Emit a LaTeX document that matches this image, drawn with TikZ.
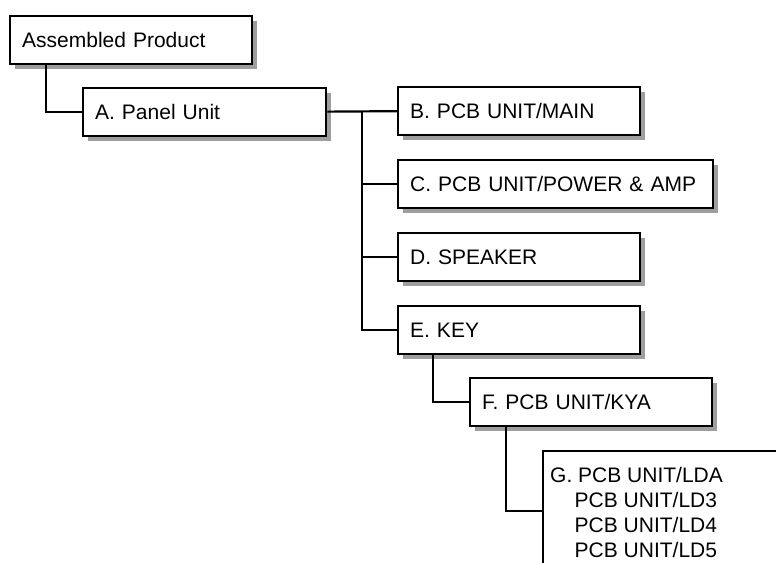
\documentclass[tikz,border=0pt]{standalone}
\usepackage{fontspec}
\setmainfont{Liberation Sans}
\usetikzlibrary{shadows,calc}
\begin{document}
\begin{tikzpicture}[x=1pt,y=-1pt,
  box/.style={draw=black, line width=2.3pt, fill=white, rectangle,
    anchor=north west, minimum height=48pt, inner xsep=12pt, inner ysep=0pt,
    text height=15.4pt, text depth=0pt, align=left,
    drop shadow={shadow xshift=5pt, shadow yshift=-5pt, fill=black!38, opacity=1}},
  wbox/.style={box, text width=218pt},
  cbox/.style={box, text width=291pt},
  conn/.style={draw=black, line width=2.2pt},
  font=\fontsize{21}{25}\selectfont]
\useasboundingbox (0,0) rectangle (776,562);
\clip (0,0) rectangle (776,562);
\node[wbox] (ap) at (9,14.5) {Assembled Product};
\node[wbox, text width=219pt] (a) at (82,86.5) {A. Panel Unit};
\node[wbox] (b) at (397,86) {B. PCB UNIT/MAIN};
\node[cbox] (c) at (397,159) {C. PCB UNIT/POWER \& AMP};
\node[wbox] (d) at (397,232) {D. SPEAKER};
\node[wbox] (e) at (397,304.5) {E. KEY};
\node[wbox] (f) at (469,377) {F. PCB UNIT/KYA};
\node[box, minimum height=120pt, text width=300pt, text height=, text depth=] (g) at (541.5,450) {};
\node[anchor=north west, inner sep=0pt, align=left] (gt) at (550,467.5)
  {G. PCB UNIT/LDA\\\hspace*{24.5pt}PCB UNIT/LD3\\\hspace*{24.5pt}PCB UNIT/LD4\\\hspace*{24.5pt}PCB UNIT/LD5};
% connectors
\draw[conn] ($(ap.south west)+(37,0)$) |- (a.west);
\draw[conn] (a.east) -- (b.west);
\coordinate (t) at ($(a.east)!0.5!(b.west)$);
\draw[conn] (t) |- (c.west);
\draw[conn] (t) |- (d.west);
\draw[conn] (t) |- (e.west);
\draw[conn] ($(e.south west)+(36,0)$) |- (f.west);
\draw[conn] ($(f.south west)+(37,0)$) |- (g.west);
\end{tikzpicture}
\end{document}
